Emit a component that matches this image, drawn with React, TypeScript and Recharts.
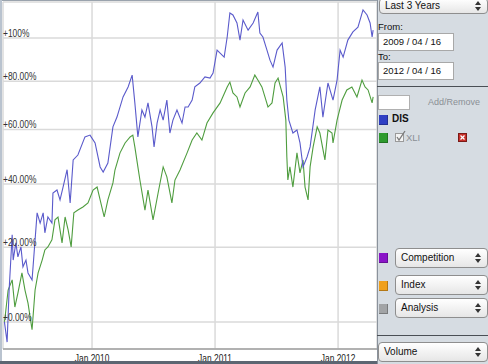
import React from 'react';
import { LineChart, Line, XAxis, YAxis, CartesianGrid } from 'recharts';

// Days since 2009-04-16 and % change for DIS
const disDays = [0, 2, 8, 14, 23, 26, 34, 40, 49, 55, 64, 70, 82, 85, 97, 106, 115, 120, 129, 141, 144, 156, 165, 174, 186, 195, 204, 218, 239, 254, 269, 284, 293, 307, 322, 334, 352, 367, 379, 387, 396, 408, 417, 426, 438, 444, 453, 462, 471, 482, 491, 500, 512, 527, 536, 545, 557, 565, 580, 595, 610, 619, 631, 640, 652, 661, 669, 678, 690, 699, 708, 723, 738, 752, 758, 767, 779, 788, 797, 809, 824, 833, 838, 844, 856, 868, 877, 886, 898, 907, 922, 936, 945, 960, 975, 987, 996, 1005, 1019, 1034, 1049, 1064, 1076, 1085, 1091, 1094];
const disPct = [0, -1.2, -4.8, 8.1, 23.7, 16.3, 21.3, 17.2, 20.1, 14.4, 16.3, 12.7, 10.8, 14.4, 30.5, 27.3, 30.5, 24.3, 29.2, 27.3, 37.0, 38.0, 34.7, 39.0, 45.0, 33.7, 48.5, 50.3, 57.1, 57.8, 54.8, 46.0, 44.2, 47.4, 61.0, 64.9, 73.2, 77.5, 82.7, 70.7, 57.1, 67.8, 64.9, 70.7, 61.0, 53.3, 62.5, 67.8, 63.7, 71.9, 58.6, 63.7, 67.8, 62.5, 69.0, 69.0, 71.9, 77.5, 79.2, 81.9, 81.4, 83.6, 94.2, 92.8, 90.9, 100.5, 112.6, 111.6, 107.5, 99.0, 109.0, 103.9, 107.5, 113.1, 102.5, 100.5, 94.2, 89.5, 86.3, 94.2, 97.6, 86.3, 71.9, 63.7, 58.6, 59.8, 54.8, 46.0, 49.6, 53.3, 67.8, 77.5, 64.9, 79.2, 71.9, 80.5, 94.2, 90.9, 99.0, 103.0, 105.4, 114.2, 111.6, 107.5, 100.5, 103.9];

// Days since 2009-04-16 and % change for XLI
const xliDays = [0, 2, 11, 23, 31, 40, 52, 61, 70, 82, 91, 100, 112, 120, 129, 141, 150, 159, 171, 180, 189, 198, 206, 218, 233, 248, 263, 275, 284, 296, 307, 322, 328, 343, 358, 373, 381, 387, 396, 402, 417, 426, 441, 456, 471, 482, 497, 506, 521, 542, 557, 571, 586, 601, 619, 640, 661, 669, 678, 690, 699, 714, 729, 743, 752, 764, 773, 782, 794, 803, 812, 827, 835, 838, 841, 847, 856, 868, 877, 886, 892, 901, 907, 916, 928, 936, 951, 960, 972, 975, 987, 1002, 1016, 1031, 1046, 1061, 1070, 1079, 1091, 1094];
const xliPct = [0, 1.2, 8.1, 10.8, 3.7, 7.3, 12.7, 8.1, 4.7, -1.9, 8.1, 12.7, 16.3, 19.2, 20.1, 22.2, 28.3, 29.2, 21.3, 29.2, 25.2, 20.1, 30.5, 31.4, 32.4, 33.7, 38.0, 39.0, 34.7, 29.2, 34.7, 40.4, 44.9, 51.1, 54.8, 57.1, 57.8, 53.3, 46.0, 41.4, 31.4, 38.0, 28.3, 37.0, 46.0, 42.5, 33.7, 41.4, 44.9, 51.1, 55.9, 58.6, 55.9, 62.5, 66.6, 70.7, 77.5, 79.6, 74.9, 73.2, 69.0, 74.9, 77.5, 82.7, 80.5, 77.5, 73.2, 69.0, 70.7, 79.2, 81.4, 73.2, 63.7, 49.6, 41.4, 46.0, 39.0, 51.1, 43.9, 48.5, 39.0, 34.7, 46.0, 53.3, 61.0, 58.6, 48.5, 59.8, 58.6, 54.8, 63.7, 71.9, 76.2, 77.5, 73.2, 80.5, 77.5, 76.2, 70.7, 73.2];

const yTicksPct = [0, 20, 40, 60, 80, 100];
const yTickLabels = ['+0.00%', '+20.00%', '+40.00%', '+60.00%', '+80.00%', '+100%'];
const xTickDays = [260, 625, 990];
const xTickLabels = ['Jan 2010', 'Jan 2011', 'Jan 2012'];

const disData = disDays.map((d, i) => ({ day: d, v: 1 + disPct[i] / 100 }));
const xliData = xliDays.map((d, i) => ({ day: d, v: 1 + xliPct[i] / 100 }));
const yTicks = yTicksPct.map((p) => 1 + p / 100);

const FONT = '"Liberation Sans", Arial, sans-serif';
const PFONT = '"Liberation Sans", Arial, sans-serif';

const renderYTick = (props: any) => {
  const { y, payload } = props;
  const pct = Math.round((payload.value - 1) * 100);
  const idx = yTicksPct.indexOf(pct);
  return (
    <text
      key={'yt' + pct}
      transform={`translate(3 ${y - 1}) scale(0.8 1)`}
      x={0}
      y={0}
      fontSize={10.5}
      fill="#333"
      fontFamily={FONT}
      textAnchor="start"
    >
      {idx >= 0 ? yTickLabels[idx] : ''}
    </text>
  );
};

const renderXTick = (props: any) => {
  const { x, y, payload } = props;
  const idx = xTickDays.indexOf(payload.value);
  return (
    <text
      key={'xt' + payload.value}
      transform={`translate(${x} ${y + 11}) scale(0.8 1)`}
      x={0}
      y={0}
      fontSize={10.5}
      fill="#222"
      fontFamily={FONT}
      textAnchor="middle"
    >
      {idx >= 0 ? xTickLabels[idx] : ''}
    </text>
  );
};

const Arrows = () => (
  <svg width={6} height={10} style={{ position: 'absolute', right: 6, top: '50%', marginTop: -5 }}>
    <polygon points="0,4 3,0 6,4" fill="#333" />
    <polygon points="0,6 3,10 6,6" fill="#333" />
  </svg>
);

const Dropdown = ({ left, top, width, height, label }: any) => (
  <div
    style={{
      position: 'absolute',
      left,
      top,
      width,
      height,
      boxSizing: 'border-box',
      border: '1px solid #8e8e8e',
      borderRadius: 4,
      background: 'linear-gradient(#ffffff, #e6e6e6)',
      fontFamily: PFONT,
      fontSize: 10,
      color: '#111',
      lineHeight: height - 2 + 'px',
      paddingLeft: 5,
    }}
  >
    {label}
    <Arrows />
  </div>
);

const Square = ({ left, top, color }: any) => (
  <div
    style={{
      position: 'absolute',
      left,
      top,
      width: 9,
      height: 10,
      background: color,
      boxShadow: 'inset -1px -1px 0 rgba(0,0,0,0.25)',
    }}
  />
);

const Input = ({ left, top, width, height, text }: any) => (
  <div
    style={{
      position: 'absolute',
      left,
      top,
      width,
      height,
      boxSizing: 'border-box',
      border: '1px solid #a8a8a8',
      background: '#fff',
      fontFamily: PFONT,
      fontSize: 9.5,
      color: '#111',
      lineHeight: height - 2 + 'px',
      paddingLeft: 4,
    }}
  >
    {text}
  </div>
);

const Label = ({ left, top, text, color, size, weight }: any) => (
  <div
    style={{
      position: 'absolute',
      left,
      top,
      fontFamily: PFONT,
      fontSize: size || 9.5,
      color: color || '#111',
      fontWeight: weight || 400,
      whiteSpace: 'nowrap',
      lineHeight: '12px',
    }}
  >
    {text}
  </div>
);

export default function App() {
  return (
    <div style={{ position: 'fixed', left: 0, top: 0, width: 488, height: 364, background: '#fff', overflow: 'hidden' }}>
      <div style={{ position: 'absolute', left: 0, top: 0 }}>
        <LineChart width={378} height={364} margin={{ top: 2, right: 1, bottom: 0, left: 2 }}>
          <CartesianGrid stroke="#dadada" strokeWidth={1.5} />
          <XAxis
            type="number"
            dataKey="day"
            domain={[-4.2, 1105.5]}
            ticks={xTickDays}
            allowDataOverflow
            height={15}
            tickLine={false}
            tickSize={0}
            interval={0}
            axisLine={{ stroke: '#a0a0a0', strokeWidth: 1.5 }}
            tick={renderXTick}
          />
          <YAxis
            type="number"
            scale="log"
            domain={[0.936, 2.184]}
            ticks={yTicks}
            allowDataOverflow
            width={1}
            interval={0}
            axisLine={false}
            tickLine={false}
            tick={renderYTick}
          />
          <Line data={xliData} dataKey="v" type="linear" stroke="#4f9d3f" strokeWidth={1.1} dot={false} isAnimationActive={false} />
          <Line data={disData} dataKey="v" type="linear" stroke="#5a5acb" strokeWidth={1.1} dot={false} isAnimationActive={false} />
        </LineChart>
      </div>
      {/* chart frame */}
      <div style={{ position: 'absolute', left: 0, top: 0, width: 377, height: 1, background: '#9aa3ad' }} />
      <div style={{ position: 'absolute', left: 0, top: 0, width: 2, height: 364, background: '#b9c3cf' }} />
      <div style={{ position: 'absolute', left: 0, top: 361, width: 377, height: 3, background: '#5c6672' }} />

      {/* side panel */}
      <div style={{ position: 'absolute', left: 377, top: 0, width: 111, height: 364, background: '#d6dce2', borderLeft: '1px solid #8a929c', boxSizing: 'border-box' }} />
      <Dropdown left={379} top={-2} width={109} height={16} label="Last 3 Years" />
      <Label left={378} top={21} text="From:" />
      <Input left={378} top={33} width={76} height={18} text="2009 / 04 / 16" />
      <Label left={378} top={51} text="To:" />
      <Input left={378} top={62} width={76} height={18} text="2012 / 04 / 16" />
      <div style={{ position: 'absolute', left: 377, top: 86, width: 111, height: 1, background: '#4a4f55' }} />
      <div style={{ position: 'absolute', left: 378, top: 95, width: 32, height: 15, background: '#fff', border: '1px solid #b0b0b0', boxSizing: 'border-box' }} />
      <Label left={428} top={96} text="Add/Remove" color="#8a8f95" size={9} />
      <Square left={379} top={115} color="#2f3fc4" />
      <Label left={392} top={113} text="DIS" size={10} weight={600} />
      <Square left={379} top={133} color="#2e9a2e" />
      <div style={{ position: 'absolute', left: 395, top: 133, width: 9, height: 9, background: '#f4f4f4', border: '1px solid #9a9a9a', boxSizing: 'border-box' }} />
      <svg style={{ position: 'absolute', left: 395, top: 130 }} width={11} height={12}>
        <polyline points="2,7 4,10 10,1" fill="none" stroke="#7a7a7a" strokeWidth={1.3} />
      </svg>
      <Label left={406} top={132} text="XLI" color="#8a8f95" size={9.5} />
      <div style={{ position: 'absolute', left: 458, top: 133, width: 9, height: 9, background: '#c8302a', border: '1px solid #7a1a16', boxSizing: 'border-box' }} />
      <svg style={{ position: 'absolute', left: 458, top: 133 }} width={9} height={9}>
        <line x1={2.5} y1={2.5} x2={6.5} y2={6.5} stroke="#fff" strokeWidth={1.3} />
        <line x1={6.5} y1={2.5} x2={2.5} y2={6.5} stroke="#fff" strokeWidth={1.3} />
      </svg>

      <Square left={379} top={253} color="#8a14c8" />
      <Dropdown left={395} top={248} width={93} height={20} label="Competition" />
      <Square left={379} top={281} color="#f0a01c" />
      <Dropdown left={395} top={275} width={93} height={20} label="Index" />
      <Square left={379} top={304} color="#a2a4a6" />
      <Dropdown left={395} top={298} width={93} height={20} label="Analysis" />
      <div style={{ position: 'absolute', left: 377, top: 335, width: 111, height: 1, background: '#4a4f55' }} />
      <Dropdown left={378} top={342} width={110} height={20} label="Volume" />
    </div>
  );
}
